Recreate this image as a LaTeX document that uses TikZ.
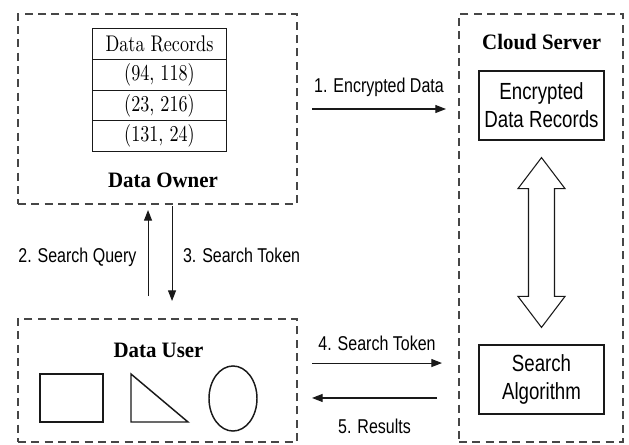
\documentclass[tikz,border=0pt]{standalone}
\usepackage{fontspec}
\setsansfont{Liberation Sans}[FakeStretch=0.8]
\newfontfamily\headfont{Liberation Serif}[FakeStretch=0.95]
\newfontfamily\tablefont{lmroman10-regular.otf}[FakeStretch=0.8]
\usetikzlibrary{arrows.meta,positioning,calc}
\definecolor{flow@line}{RGB}{25,25,25}
\definecolor{flow@dash}{RGB}{70,70,70}
\tikzset{
  flow/.style={
    x=0.75pt, y=-0.75pt,
    >={Triangle[length=8pt,width=6pt]},
    line width=0.8pt
  },
  zone/.style={                    % dashed party frame
    draw=flow@dash, dash pattern=on 6pt off 4pt,
    line width=0.8pt,
    inner sep=0pt, outer sep=0pt
  },
  zonetitle/.style={font=\headfont\bfseries\fontsize{16.5}{19}\selectfont},
  recrow/.style={                  % one row of the record table
    draw=flow@line, line width=0.7pt,
    minimum width=100pt, minimum height=23pt,
    inner sep=0pt, outer sep=0pt,
    font=\tablefont\fontsize{17}{19}\selectfont
  },
  sbox/.style={                    % server component
    draw=flow@line, line width=0.9pt,
    minimum width=93.75pt, minimum height=51.75pt,
    align=center,
    font=\sffamily\fontsize{17.5}{21}\selectfont
  },
  msg/.style={->, line width=0.8pt, draw=flow@line},
  msglabel/.style={font=\sffamily\fontsize{15}{17}\selectfont},
  glyph/.style={draw=flow@line, line width=1.1pt},
  hollow/.style={draw=flow@line, line width=0.8pt, fill=white, line join=miter}
}

\begin{document}
\begin{tikzpicture}[flow]
\useasboundingbox (0,0) rectangle (629,444);

% Data owner with its record table
\node[zone, minimum width=209.25pt, minimum height=142.5pt] (owner) at (157.5,109) {};
\node[recrow] (hdr) at (159.5,44) {Data Records};
\node[recrow, below=0pt of hdr] (rec1) {(94, 118)};
\node[recrow, below=0pt of rec1] (rec2) {(23, 216)};
\node[recrow, below=0pt of rec2] (rec3) {(131, 24)};
\node[zonetitle] (ownertitle) at (163,180) {Data Owner};

% Cloud server
\node[zone, minimum width=123pt, minimum height=321pt] (cloud) at (541,228) {};
\node[zonetitle] (cloudtitle) at (541.7,42) {Cloud Server};
\node[sbox] (enc) at (541.5,105.5) {Encrypted\\Data Records};
\node[sbox] (alg) at (541.5,379.5) {Search\\Algorithm};

% Data user with its query shapes
\node[zone, minimum width=209.25pt, minimum height=92.25pt] (user) at (157.5,380.5) {};
\node[zonetitle] (usertitle) at (158.5,350) {Data User};
\draw[glyph] (40,374) rectangle (103,422);
\draw[glyph] (131,374) -- (131,422) -- (188,422) -- cycle;
\draw[glyph] (233,398.5) ellipse [x radius=18pt, y radius=24.4pt];

% Hollow double arrow between the server parts
\coordinate (tipup) at ($(enc.south)+(0,17)$);
\coordinate (tipdn) at ($(alg.north)+(0,-17)$);
\draw[hollow] (tipup) -- ++(23.5,31) -- ++(-10.5,0) -- ($(tipdn)+(13,-31)$)
  -- ++(10.5,0) -- (tipdn) -- ++(-23.5,-31) -- ++(10.5,0)
  -- ($(tipup)+(-13,31)$) -- ++(-10.5,0) -- cycle;

% Messages
\draw[msg] ([xshift=11.25pt]owner.east) --
  node[msglabel, above=5.5pt] {1. Encrypted Data} ([xshift=-9.75pt]owner.east -| cloud.west);
\draw[msg] ([xshift=-7.1pt,yshift=17.25pt]user.north) --
  node[msglabel, left=5pt, pos=0.45] {2. Search Query} ([xshift=-7.1pt,yshift=-4.5pt]owner.south);
\draw[msg] ([xshift=10.9pt,yshift=-1.5pt]owner.south) --
  node[msglabel, right=4.5pt, pos=0.52] {3. Search Token} ([xshift=10.9pt,yshift=13.5pt]user.north);
\draw[msg] ([xshift=11.25pt,yshift=13.1pt]user.east) --
  node[msglabel, above=5.5pt] {4. Search Token} ([xshift=-12.75pt,yshift=13.1pt]user.east -| cloud.west);
\draw[msg] ([xshift=-16.5pt,yshift=-13.1pt]user.east -| cloud.west) --
  node[msglabel, below=12pt] {5. Results} ([xshift=11.25pt,yshift=-13.1pt]user.east);

\end{tikzpicture}
\end{document}
